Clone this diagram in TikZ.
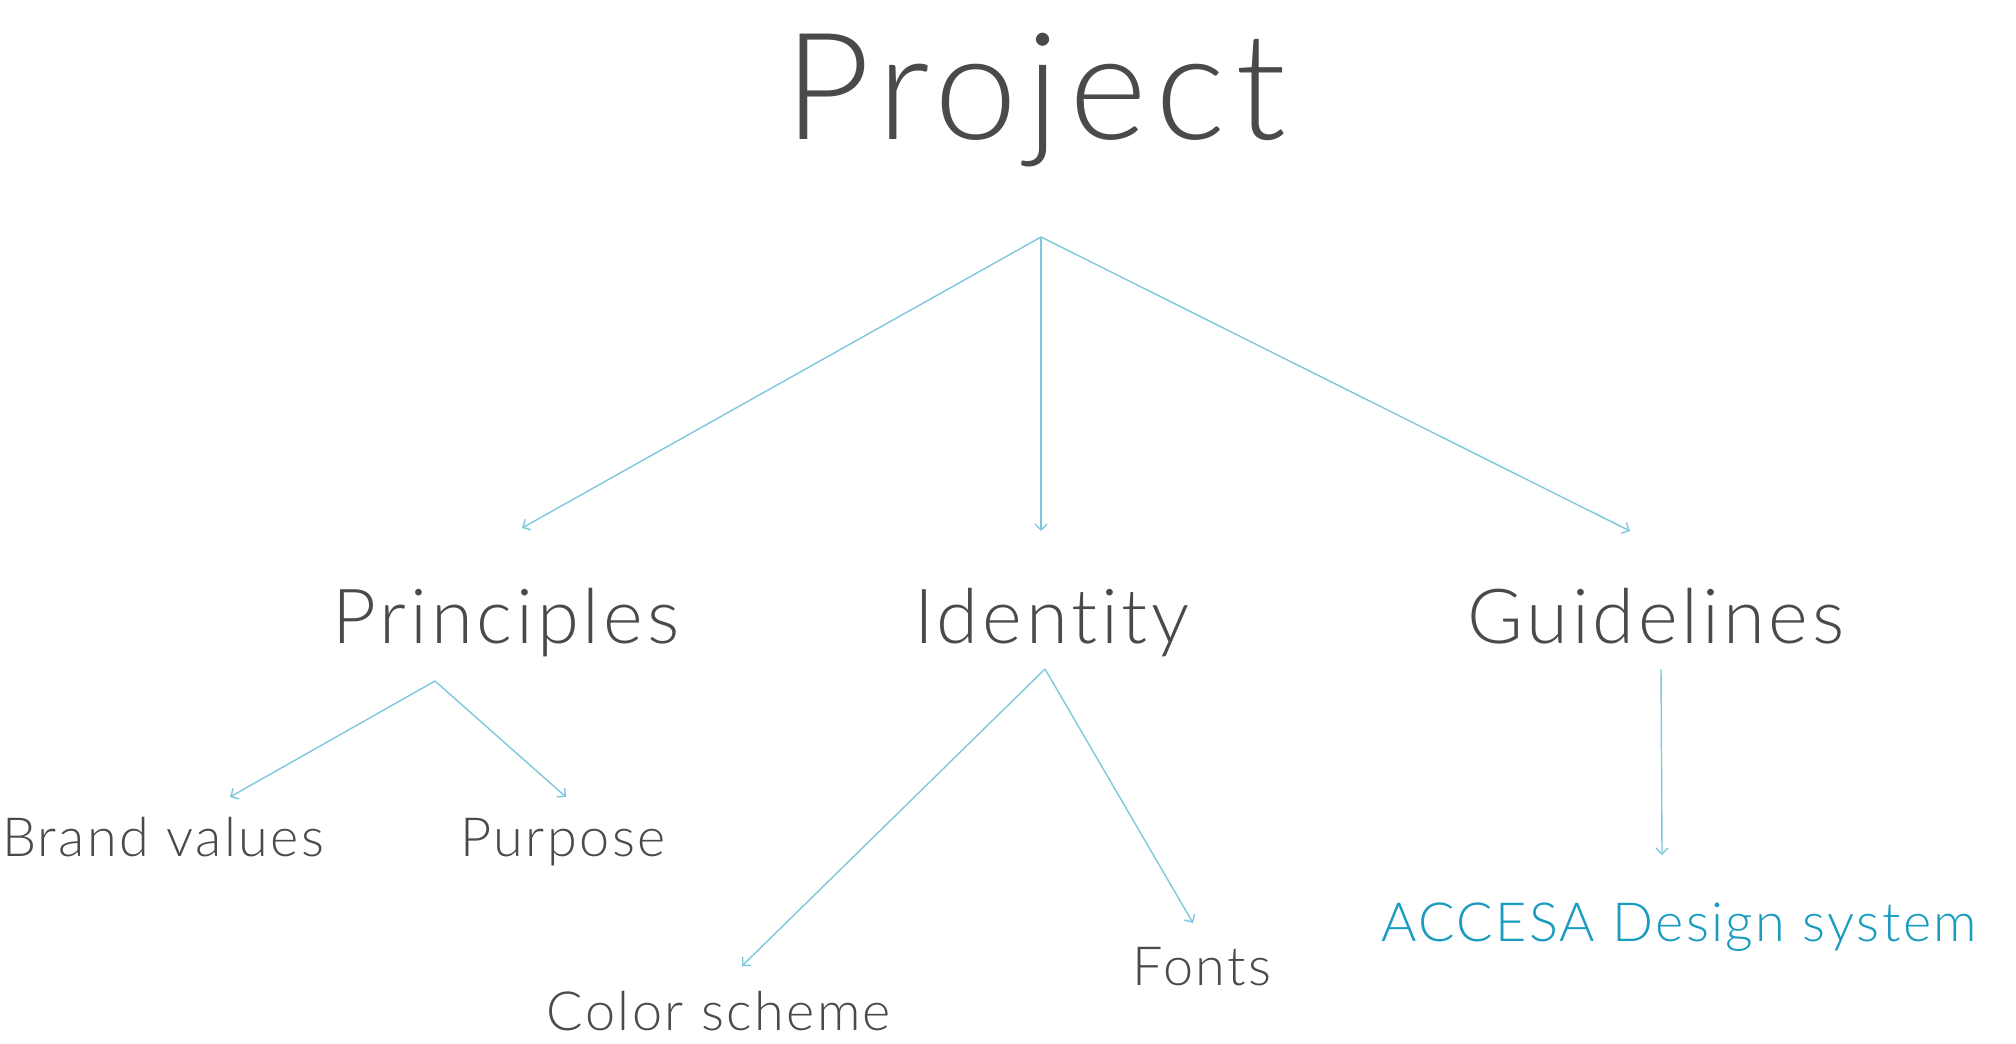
\documentclass[tikz,border=0pt]{standalone}
\usepackage{fontspec}
\setmainfont{Lato}[UprightFont=* Light]
\newfontfamily\toplabelfont{Lato}[UprightFont=* Light, LetterSpace=6, Ligatures=NoCommon]
\newfontfamily\midlabelfont{Lato}[UprightFont=* Light, LetterSpace=5, Ligatures=NoCommon]
\newfontfamily\leaflabelfont{Lato}[UprightFont=* Light, LetterSpace=4.5, Ligatures=NoCommon]
\usetikzlibrary{arrows.meta}
\definecolor{inkgray}{HTML}{4A4A4A}
\definecolor{linkblue}{HTML}{7EC8DC}
\definecolor{accentblue}{HTML}{1A9BC0}
\begin{document}
\begin{tikzpicture}[x=1pt,y=-1pt,
  lbl/.style={anchor=base, inner sep=0pt, text=inkgray},
  toplbl/.style={lbl, font=\toplabelfont\fontsize{149}{160}\selectfont},
  midlbl/.style={lbl, font=\midlabelfont\fontsize{76}{84}\selectfont},
  leaflbl/.style={lbl, font=\leaflabelfont\fontsize{54}{60}\selectfont},
  link/.style={draw=linkblue, line width=1.4pt, -{Straight Barb[length=6pt,width=12pt,line width=1.4pt]}}]
\useasboundingbox (0,0) rectangle (2016,1044);

% labels
\node[toplbl] (project) at (1035,139) {Project};
\node[midlbl] (principles) at (506,643) {Principles};
\node[midlbl] (identity) at (1052,643) {Identity};
\node[midlbl] (guidelines) at (1656,643) {Guidelines};
\node[leaflbl] (brand) at (163,856) {Brand values};
\node[leaflbl] (purpose) at (563,856) {Purpose};
\node[leaflbl] (color) at (719,1030) {Color scheme};
\node[leaflbl] (fonts) at (1202,985) {Fonts};
\node[leaflbl, text=accentblue] (accesa) at (1679,941) {ACCESA Design system};

% branch points and arrow ends
\coordinate (projhub) at (1041,237);
\coordinate (principlesend) at (522,528);
\coordinate (identityend) at (1041,531);
\coordinate (guidelinesend) at (1630,531);
\coordinate (princhub) at (435,681);
\coordinate (brandend) at (230,797);
\coordinate (purposeend) at (566,797);
\coordinate (idhub) at (1045,669);
\coordinate (colorend) at (742,966);
\coordinate (fontsend) at (1193,923);
\coordinate (guidhub) at (1661,669);
\coordinate (accesaend) at (1662,855);

% connectors
\draw[link] (projhub) -- (principlesend);
\draw[link] (projhub) -- (identityend);
\draw[link] (projhub) -- (guidelinesend);
\draw[link] (princhub) -- (brandend);
\draw[link] (princhub) -- (purposeend);
\draw[link] (idhub) -- (colorend);
\draw[link] (idhub) -- (fontsend);
\draw[link] (guidhub) -- (accesaend);
\end{tikzpicture}
\end{document}
